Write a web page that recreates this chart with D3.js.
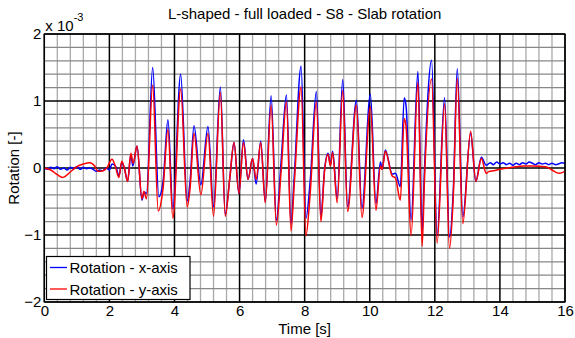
<!DOCTYPE html>
<html><head><meta charset="utf-8">
<script src="https://cdn.jsdelivr.net/npm/d3@7"></script>
<style>body{margin:0;background:#fff}svg text{font-family:"Liberation Sans",Arial,sans-serif;fill:#000}</style>
</head><body><svg id="c" width="575" height="338"></svg>
<script>
const title = "L-shaped - full loaded - S8 - Slab rotation";
const xLabel = "Time [s]";
const yLabel = "Rotation [-]";
const seriesNames = ["Rotation - x-axis", "Rotation - y-axis"];
const xTicks = [0, 2, 4, 6, 8, 10, 12, 14, 16];
const yTicks = [-2, -1, 0, 1, 2];
const yExponent = "-3";
// values in units of 1e-3
const blueT = [0,0.1,0.2,0.3,0.4,0.5,0.6,0.7,0.8,0.9,1.0,1.1,1.2,1.3,1.4,1.5,1.6,1.7,1.8,1.9,2.0,
 2.08,2.2,2.29,2.38,2.46,2.56,2.66,2.72,2.85,3.0,3.07,3.14,3.33,3.52,3.65,3.8,3.95,4.19,4.39,4.48,4.6,4.81,5.03,5.2,5.41,5.56,5.7,5.83,5.98,6.12,6.26,6.4,6.51,6.65,6.79,6.97,7.13,7.28,7.44,7.58,7.68,7.89,8.04,8.17,8.36,8.5,8.61,8.72,8.79,8.86,9.0,9.17,9.32,9.59,9.76,10.02,10.19,10.33,10.38,10.48,10.69,10.79,10.94,11.06,11.12,11.27,11.48,11.61,11.68,11.9,12.07,12.3,12.45,12.57,12.69,12.86,13.1,13.26,13.43,13.58,
 13.7,13.8,13.9,14.0,14.1,14.2,14.3,14.4,14.5,14.6,14.7,14.8,14.9,15.0,15.1,15.2,15.3,15.4,15.5,15.6,15.7,15.8,15.9,16.0];
const blueV = [0,-0.02,0.01,-0.01,0.02,-0.02,0.0,-0.03,0.01,-0.01,0.02,-0.02,0.01,-0.01,0.0,-0.02,-0.05,-0.03,-0.04,0.0,-0.03,
 0.06,0.02,-0.12,0.08,0.0,-0.2,0.2,0.03,0.33,-0.48,-0.36,-0.38,1.5,-0.43,-0.2,0.72,-0.61,1.4,-0.49,-0.2,0.63,-0.25,0.62,-0.58,1.21,-0.69,-0.15,0.38,-0.38,0.42,-0.17,0.14,-0.24,0.4,-0.5,1.08,-0.78,0.12,1.09,-0.83,-0.13,1.52,-0.75,-0.2,1.14,-0.73,-0.03,0.22,0.05,0.25,-0.45,1.32,-0.58,1.01,-0.6,1.1,-0.53,0.09,-0.02,0.27,-0.09,-0.08,-0.28,1.05,0.91,-0.78,1.44,-0.95,-0.05,1.61,-1.0,1.05,-1.03,-0.3,1.48,-0.73,0.52,-0.2,0.16,0.04,
 0.08,0.05,0.09,0.06,0.08,0.05,0.07,0.04,0.07,0.05,0.08,0.06,0.09,0.07,0.05,0.08,0.06,0.07,0.05,0.07,0.05,0.06,0.08,0.07];
const redT = [0,0.2,0.4,0.57,0.8,1.0,1.2,1.4,1.55,1.65,1.8,1.92,2.08,2.18,2.29,2.38,2.46,2.56,2.66,2.73,2.85,3.0,3.06,3.14,3.33,3.5,3.65,3.8,3.95,4.19,4.39,4.48,4.6,4.81,5.03,5.2,5.41,5.56,5.7,5.83,5.98,6.12,6.26,6.4,6.51,6.65,6.79,6.97,7.13,7.28,7.44,7.58,7.68,7.89,8.04,8.17,8.36,8.5,8.61,8.72,8.79,8.86,9.0,9.17,9.32,9.59,9.76,10.02,10.19,10.33,10.38,10.48,10.69,10.79,10.94,11.06,11.12,11.27,11.48,11.61,11.68,11.9,12.07,12.3,12.45,12.57,12.69,12.86,13.1,13.26,13.43,13.58,13.67,13.8,14.0,14.4,14.74,15.0,15.4,15.6,15.82,16.0];
const redV = [0,-0.03,-0.1,-0.14,-0.06,0.02,0.06,0.08,0.03,-0.05,-0.04,0.0,0.13,0.03,-0.14,0.1,0.0,-0.2,0.22,0.07,0.33,-0.46,-0.35,-0.46,1.24,-0.64,-0.3,0.58,-0.75,1.18,-0.58,-0.3,0.52,-0.4,0.52,-0.72,1.13,-0.72,-0.15,0.38,-0.38,0.38,-0.17,0.14,-0.17,0.38,-0.52,0.94,-0.85,-0.03,0.99,-0.94,-0.25,1.21,-1.01,-0.38,0.99,-0.8,-0.05,0.2,0.03,0.23,-0.52,1.16,-0.65,0.94,-0.74,0.91,-0.63,0.03,-0.02,0.25,-0.12,-0.15,-0.48,0.74,0.6,-1.01,1.28,-1.17,-0.2,1.33,-1.12,0.96,-1.2,-0.4,1.34,-0.83,0.55,-0.2,0.14,-0.08,-0.05,-0.04,-0.02,0.01,0.03,0.03,0.02,-0.03,-0.08,-0.05];

const svg = d3.select("#c");
const L = 44.3, R = 565, T = 34, B = 302;
const x = d3.scaleLinear().domain([0,16]).range([L,R]);
const y = d3.scaleLinear().domain([-2,2]).range([B,T]);

const g = svg.append("g");
// minor grid
const xMinor = d3.range(0, 16.001, 0.4).filter(v => Math.abs(v/2 - Math.round(v/2)) > 1e-6);
const yMinor = d3.range(-2, 2.001, 0.2).filter(v => Math.abs(v - Math.round(v)) > 1e-6);
g.selectAll(".vm").data(xMinor).join("line").attr("x1",d=>x(d)).attr("x2",d=>x(d)).attr("y1",T).attr("y2",B).attr("stroke","#aaa").attr("stroke-width",1.3);
g.selectAll(".hm").data(yMinor).join("line").attr("x1",L).attr("x2",R).attr("y1",d=>y(d)).attr("y2",d=>y(d)).attr("stroke","#888").attr("stroke-width",1.3);
// major grid
g.selectAll(".vM").data(xTicks).join("line").attr("x1",d=>x(d)).attr("x2",d=>x(d)).attr("y1",T).attr("y2",B).attr("stroke","#000").attr("stroke-width",1.5);
g.selectAll(".hM").data(yTicks).join("line").attr("x1",L).attr("x2",R).attr("y1",d=>y(d)).attr("y2",d=>y(d)).attr("stroke","#000").attr("stroke-width",1.5);

// lines
const line = d3.line().x(d=>x(d[0])).y(d=>y(d[1])).curve(d3.curveMonotoneX);
const blue = blueT.map((t,i)=>[t, blueV[i]]);
const red = redT.map((t,i)=>[t, redV[i]]);
g.append("path").attr("d", line(blue)).attr("fill","none").attr("stroke","#0000ff").attr("stroke-width",1.5);
g.append("path").attr("d", line(red)).attr("fill","none").attr("stroke","#ff0000").attr("stroke-width",1.5);

// box
g.append("rect").attr("x",L).attr("y",T).attr("width",R-L).attr("height",B-T).attr("fill","none").attr("stroke","#000").attr("stroke-width",1.2);

// axes labels
const xAxis = d3.axisBottom(x).tickValues(xTicks).tickSize(0).tickPadding(3).tickFormat(d3.format("d"));
const ax = svg.append("g").attr("transform",`translate(0,${B})`).call(xAxis);
ax.select(".domain").remove();
ax.selectAll("text").attr("font-size",15).attr("font-family","Liberation Sans, Arial, sans-serif").attr("fill","#000");
const yAxis = d3.axisLeft(y).tickValues(yTicks).tickSize(0).tickPadding(3).tickFormat(d3.format("d"));
const ay = svg.append("g").attr("transform",`translate(${L},0)`).call(yAxis);
ay.select(".domain").remove();
ay.selectAll("text").attr("font-size",15).attr("font-family","Liberation Sans, Arial, sans-serif").attr("fill","#000");

// exponent
const ex = svg.append("text").attr("x",L+1).attr("y",31).attr("font-size",15);
ex.append("tspan").text("x 10");
ex.append("tspan").attr("dy",-10).attr("font-size",11).text(yExponent);

svg.append("text").attr("x",(L+R)/2).attr("y",19).attr("text-anchor","middle").attr("font-size",15).text(title);
svg.append("text").attr("x",(L+R)/2).attr("y",334).attr("text-anchor","middle").attr("font-size",15).text(xLabel);
svg.append("text").attr("transform",`translate(19,${(T+B)/2}) rotate(-90)`).attr("text-anchor","middle").attr("font-size",15).text(yLabel);

// legend
const lg = svg.append("g");
lg.append("rect").attr("x",46.5).attr("y",256.5).attr("width",143.5).attr("height",43).attr("fill","#fff").attr("stroke","#000").attr("stroke-width",1.2);
const colors = ["#0000ff","#ff0000"];
seriesNames.forEach((n,i)=>{
  const yy = 267.5 + i*21.5;
  lg.append("line").attr("x1",50).attr("x2",67).attr("y1",yy).attr("y2",yy).attr("stroke",colors[i]).attr("stroke-width",1.3);
  lg.append("text").attr("x",69.5).attr("y",yy+5.5).attr("font-size",15).text(n);
});
</script></body></html>
